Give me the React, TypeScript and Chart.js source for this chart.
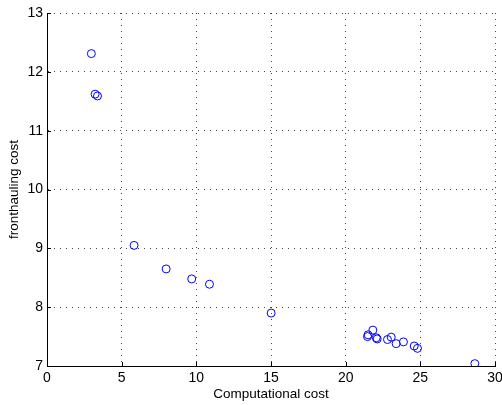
import React, { useEffect, useRef } from "react";
import { Chart, registerables } from "chart.js";

Chart.register(...registerables);

const computationalCost = [2.97, 3.22, 3.38, 5.83, 7.98, 9.69, 10.88, 15.01, 21.46, 21.5, 21.82, 22.11, 22.05, 22.8, 23.05, 23.38, 23.87, 24.59, 24.81, 28.65];
const fronthaulingCost = [12.31, 11.62, 11.59, 9.05, 8.65, 8.48, 8.39, 7.9, 7.5, 7.53, 7.61, 7.46, 7.48, 7.45, 7.49, 7.38, 7.41, 7.34, 7.3, 7.04];
const xTicks = [0, 5, 10, 15, 20, 25, 30];
const yTicks = [7, 8, 9, 10, 11, 12, 13];

const FONT = "'Liberation Sans', Arial, Helvetica, sans-serif";

const inwardTicks = {
  id: "inwardTicks",
  afterDatasetsDraw(chart: any) {
    const { ctx, chartArea, scales } = chart;
    ctx.save();
    ctx.strokeStyle = "#000";
    ctx.lineWidth = 1;
    ctx.beginPath();
    for (const v of xTicks) {
      const px = Math.round(scales.x.getPixelForValue(v)) + 0.5;
      ctx.moveTo(px, chartArea.bottom);
      ctx.lineTo(px, chartArea.bottom - 4);
    }
    for (const v of yTicks) {
      const py = Math.round(scales.y.getPixelForValue(v)) + 0.5;
      ctx.moveTo(chartArea.left, py);
      ctx.lineTo(chartArea.left + 4, py);
    }
    ctx.stroke();
    ctx.restore();
  },
};

export default function App() {
  const ref = useRef<HTMLCanvasElement>(null);
  useEffect(() => {
    if (!ref.current) return;
    const chart = new Chart(ref.current, {
      type: "scatter",
      data: {
        datasets: [
          {
            data: computationalCost.map((x, i) => ({ x, y: fronthaulingCost[i] })),
            pointStyle: "circle",
            pointRadius: 4,
            pointBorderColor: "#0000ff",
            pointBackgroundColor: "rgba(0,0,0,0)",
            pointBorderWidth: 1,
            showLine: false,
          },
        ],
      },
      plugins: [inwardTicks],
      options: {
        animation: false,
        responsive: false,
        maintainAspectRatio: false,
        layout: { padding: { left: 6, top: 13, right: 7, bottom: 0 } },
        plugins: { legend: { display: false }, tooltip: { enabled: false } },
        scales: {
          x: {
            type: "linear",
            min: 0,
            max: 30,
            afterBuildTicks: (s: any) => {
              s.ticks = xTicks.map((v) => ({ value: v }));
            },
            afterFit: (s: any) => {
              s.height = 39;
              s.paddingLeft = 0;
              s.paddingRight = 0;
            },
            ticks: { color: "#000", font: { family: FONT, size: 14 }, padding: 4 },
            grid: {
              color: "#444",
              lineWidth: 1,
              drawTicks: false,
            },
            border: { display: true, color: "#000", width: 1, dash: [1, 5] },
            title: {
              display: true,
              text: "Computational cost",
              color: "#000",
              font: { family: FONT, size: 13.5 },
              padding: { top: 0, bottom: 3 },
            },
          },
          y: {
            type: "linear",
            min: 7,
            max: 13,
            afterBuildTicks: (s: any) => {
              s.ticks = yTicks.map((v) => ({ value: v }));
            },
            afterFit: (s: any) => {
              s.width = 41;
              s.paddingTop = 0;
              s.paddingBottom = 0;
            },
            ticks: { color: "#000", font: { family: FONT, size: 14 }, padding: 4 },
            grid: {
              color: "#444",
              lineWidth: 1,
              drawTicks: false,
            },
            border: { display: true, color: "#000", width: 1, dash: [1, 5] },
            title: {
              display: true,
              text: "fronthauling cost",
              color: "#000",
              font: { family: FONT, size: 13.5 },
              padding: { top: 0, bottom: 0 },
            },
          },
        },
      },
    });
    return () => chart.destroy();
  }, []);
  return (
    <div style={{ position: "fixed", left: 0, top: 0, width: 502, height: 405, background: "#fff" }}>
      <canvas ref={ref} width={502} height={405} style={{ display: "block" }} />
    </div>
  );
}
